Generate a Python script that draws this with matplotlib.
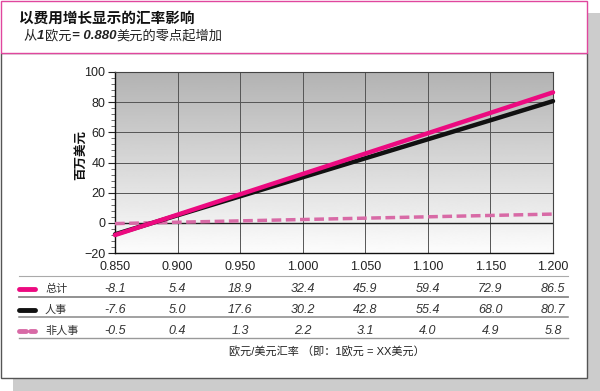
"""Exchange-rate impact chart (EUR/USD) with data table underneath."""

import matplotlib

matplotlib.use("Agg")
import matplotlib.pyplot as plt
import numpy as np
from matplotlib.lines import Line2D
from matplotlib.patches import Rectangle
from matplotlib.ticker import MultipleLocator
from matplotlib import transforms

plt.rcParams["font.family"] = ["Liberation Sans", "Noto Sans CJK SC", "DejaVu Sans"]

rates = [0.850, 0.900, 0.950, 1.000, 1.050, 1.100, 1.150, 1.200]
rate_labels = ["0.850", "0.900", "0.950", "1.000", "1.050", "1.100", "1.150", "1.200"]
total = [-8.1, 5.4, 18.9, 32.4, 45.9, 59.4, 72.9, 86.5]
personnel = [-7.6, 5.0, 17.6, 30.2, 42.8, 55.4, 68.0, 80.7]
non_personnel = [-0.5, 0.4, 1.3, 2.2, 3.1, 4.0, 4.9, 5.8]
series_names = ["总计", "人事", "非人事"]

PINK = "#ec0a80"
BLACK = "#111111"
LIGHT_PINK = "#d86aa6"

W, H = 600, 391
fig = plt.figure(figsize=(W / 100, H / 100), dpi=100)


def fx(px):
    return px / W


def fy(py):
    return 1 - py / H


# shadow, panel, title box
fig.patches.append(Rectangle((fx(13), fy(391)), fx(587), 378 / H,
                             transform=fig.transFigure, facecolor="#cccccc",
                             edgecolor="none", zorder=0))
fig.patches.append(Rectangle((fx(1), fy(378)), fx(586), 325 / H,
                             transform=fig.transFigure, facecolor="white",
                             edgecolor="#555555", lw=1.0, zorder=1))
fig.patches.append(Rectangle((fx(1), fy(53)), fx(586), 52 / H,
                             transform=fig.transFigure, facecolor="white",
                             edgecolor="#e0479e", lw=1.0, zorder=2))

fig.text(fx(19), fy(19), "以费用增长显示的汇率影响", fontsize=10.5,
         fontweight="bold", va="center", ha="left", color="#111111")

# subtitle pieces laid out one after another
renderer = fig.canvas.get_renderer()
pieces = [("从", "normal", "normal"), ("1", "bold", "italic"),
          ("欧元", "normal", "normal"), ("= 0.880", "bold", "italic"),
          ("美元的零点起增加", "normal", "normal")]
x_cur = 23
for txt, wt, st in pieces:
    t = fig.text(fx(x_cur), fy(36), txt, fontsize=9.5, fontweight=wt,
                 fontstyle=st, va="center", ha="left", color="#222222")
    bb = t.get_window_extent(renderer)
    x_cur += bb.width + 0.5

# main plot
ax = fig.add_axes([fx(115), fy(253), (553 - 115) / W, (253 - 72) / H])
ax.set_zorder(3)
grad = np.linspace(0.70, 0.99, 256).reshape(-1, 1)
ax.imshow(grad, cmap="gray", vmin=0, vmax=1, aspect="auto",
          extent=[0, 1, 0, 1], transform=ax.transAxes, zorder=0)

ax.set_xlim(0.85, 1.2)
ax.set_ylim(-20, 100)
ax.set_xticks(rates)
ax.set_xticklabels(rate_labels)
ax.yaxis.set_major_locator(MultipleLocator(20))
ax.yaxis.set_minor_locator(MultipleLocator(4))
ax.tick_params(axis="x", length=0, pad=6, labelsize=9, colors="#222222")
ax.tick_params(axis="y", which="major", length=5, width=0.8, pad=2,
               labelsize=9, colors="#222222")
ax.tick_params(axis="y", which="minor", length=3, width=0.6, color="#555555")
ax.grid(True, which="major", color="#555555", lw=0.7, zorder=1)
ax.set_axisbelow(True)
ax.axhline(0, color="#222222", lw=1.0, zorder=2)

for s in ["left", "bottom"]:
    ax.spines[s].set_color("#111111")
    ax.spines[s].set_linewidth(1.0)
ax.spines["right"].set_color("#444444")
ax.spines["right"].set_linewidth(0.8)
ax.spines["top"].set_linestyle((0, (1, 1)))
ax.spines["top"].set_color("#444444")
ax.spines["top"].set_linewidth(0.8)

ax.plot(rates, non_personnel, color=LIGHT_PINK, lw=2.5, dashes=(2.8, 1.3),
        zorder=4, clip_on=False)
ax.plot(rates, personnel, color=BLACK, lw=3.2, solid_capstyle="round",
        zorder=5, clip_on=False)
ax.plot(rates, total, color=PINK, lw=3.2, solid_capstyle="round",
        zorder=6, clip_on=False)

# y label placed by pixel position, left of the tick labels
fig.text(fx(81), fy(155), "百万美元", rotation=90, fontsize=9,
         fontweight="bold", color="#111111", ha="center", va="center")

# data table below the axis
tr = transforms.blended_transform_factory(ax.transData, fig.transFigure)
for y_line, col, lw in [(276, "#aaaaaa", 0.8), (297, "#888888", 1.3),
                        (317, "#888888", 1.1), (338, "#999999", 1.0)]:
    fig.add_artist(Line2D([fx(19), fx(568)], [fy(y_line), fy(y_line)],
                          transform=fig.transFigure, color=col, lw=lw))

rows = [total, personnel, non_personnel]
row_y = [289, 310, 331]
styles = [dict(color=PINK, ls="-"), dict(color=BLACK, ls="-"),
          dict(color=LIGHT_PINK, ls=(0, (1.4, 0.9)))]
for name, vals, yy, sty in zip(series_names, rows, row_y, styles):
    fig.add_artist(Line2D([fx(19), fx(35)], [fy(yy), fy(yy)],
                          transform=fig.transFigure, color=sty["color"],
                          ls=sty["ls"], lw=3.5, solid_capstyle="round",
                          dash_capstyle="round"))
    fig.text(fx(45), fy(yy), name, fontsize=8, va="center", ha="left",
             color="#333333")
    for r, v in zip(rates, vals):
        fig.text(r, fy(yy), f"{v:.1f}", transform=tr, fontsize=9,
                 fontstyle="italic", ha="center", va="center",
                 color="#333333")

fig.text(fx(327), fy(351), "欧元/美元汇率 （即：1欧元 = XX美元）", fontsize=8,
         ha="center", va="center", color="#222222")

fig.savefig("out.png", dpi=100)
